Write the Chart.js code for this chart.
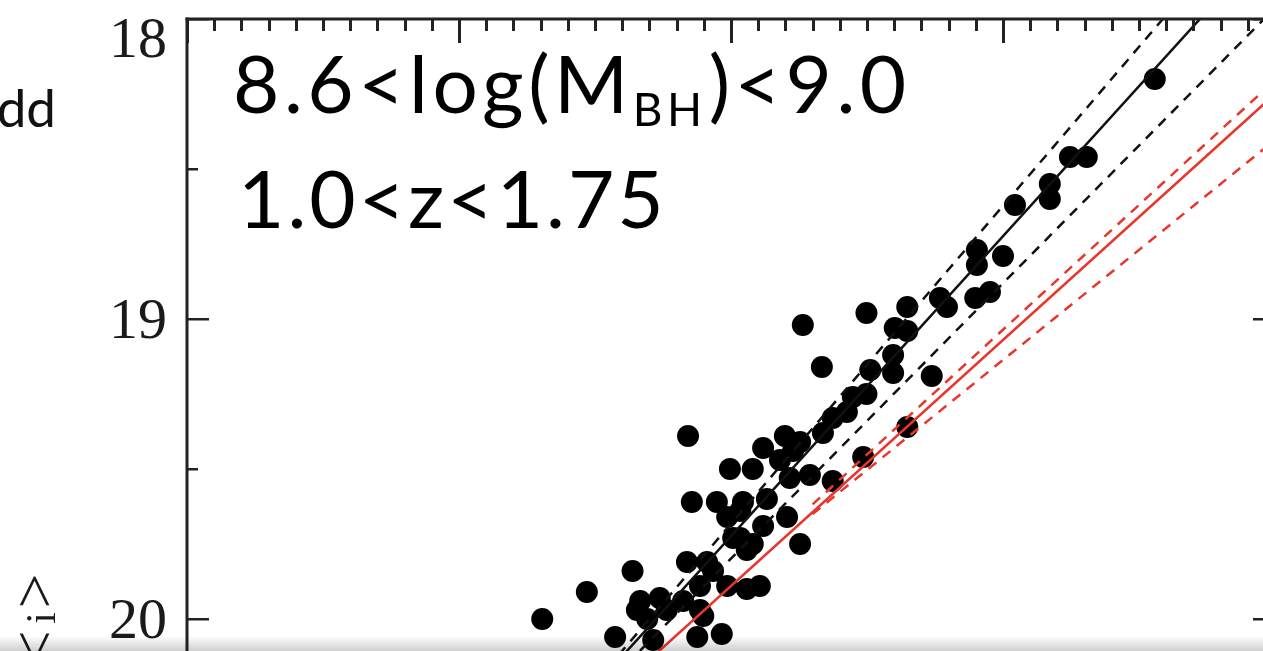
<!DOCTYPE html>
<html>
<head>
<meta charset="utf-8">
<script src="https://cdn.jsdelivr.net/npm/chart.js@4.4.1/dist/chart.umd.min.js"></script>
<style>
  html, body { margin: 0; padding: 0; background: #fff; overflow: hidden; }
  #wrap { position: absolute; left: 0; top: 0; width: 1300px; height: 720px; }
  #shade {
    position: absolute; left: 0; right: 0; top: 636px; height: 15px;
    background: linear-gradient(to bottom, #fff, #cfcfcf);
    mix-blend-mode: multiply; pointer-events: none;
  }
</style>
</head>
<body>
<div id="wrap"><canvas id="chart" width="1300" height="720"></canvas></div>
<div id="shade"></div>
<script>
// objects in the 8.6-9.0 mass bin, 1.0<z<1.75
const objX = [46.779, 46.623, 46.654, 46.586, 46.586, 46.522, 46.452, 46.500, 46.452, 46.476,
  46.449, 46.384, 46.397, 46.324, 46.249, 46.132, 46.301, 46.324, 46.167, 46.298,
  46.298, 46.256, 46.369, 46.224, 46.249, 46.324, 46.213, 46.187, 46.169, 46.127,
  46.099, 46.059, 46.114, 46.090, 46.243, 45.921, 45.998, 46.040, 46.108, 46.145,
  46.187, 45.928, 45.974, 46.022, 46.066, 45.993, 46.017, 46.059, 46.103, 46.127,
  46.017, 46.029, 45.919, 45.956, 45.967, 45.819, 45.735, 45.833, 45.869, 45.882,
  45.827, 45.846, 45.943, 45.993, 46.029, 46.053, 45.653, 45.787, 45.857, 45.938,
  45.983, 45.943, 45.912, 45.949, 46.004, 46.040];
const objY = [18.20, 18.46, 18.46, 18.55, 18.60, 18.62, 18.77, 18.79, 18.82, 18.91,
  18.93, 18.93, 18.96, 18.96, 18.98, 19.02, 19.03, 19.04, 19.16, 19.12,
  19.18, 19.17, 19.19, 19.26, 19.25, 19.36, 19.31, 19.33, 19.38, 19.41,
  19.39, 19.43, 19.44, 19.47, 19.46, 19.39, 19.50, 19.50, 19.53, 19.52,
  19.54, 19.61, 19.61, 19.61, 19.60, 19.66, 19.64, 19.69, 19.66, 19.75,
  19.73, 19.77, 19.81, 19.81, 19.84, 19.84, 19.91, 19.94, 19.93, 19.97,
  19.97, 20.00, 19.97, 19.89, 19.90, 19.89, 20.00, 20.06, 20.07, 20.06,
  20.05, 19.89, 19.94, 19.99, 19.73, 19.75];

// best fit (black) with its upper / lower bounds
const fitX = [45.6, 47.0];
const fitY = [20.524, 17.724];
const fitHiX = [45.6, 46.9];
const fitHiY = [20.53, 17.775];
const fitLoX = [45.6, 47.0];
const fitLoY = [20.533, 17.963];

// comparison relation (red) with its bounds
const refX = [45.75, 47.0];
const refY = [20.30, 18.25];
const refHiX = [46.15, 47.0];
const refHiY = [19.618, 18.204];
const refLoX = [46.15, 47.0];
const refLoY = [19.65, 18.403];

const yLabelValues = [18, 19, 20];
const yLabels = ["18", "19", "20"];

const xMin = 45, xMax = 47;
const yMin = 18, yMax = 20.3;

const toPts = (xs, ys) => xs.map((v, i) => ({ x: v, y: ys[i] }));

function lineSet(xs, ys, color, dash) {
  return {
    data: toPts(xs, ys),
    showLine: true,
    borderColor: color,
    borderWidth: 2.5,
    borderDash: dash || [],
    pointRadius: 0,
    order: 0
  };
}

// frame and inward ticks, drawn on top of everything
const framePlugin = {
  id: "frame",
  afterDraw(chart) {
    const ctx = chart.ctx;
    const a = chart.chartArea;
    const xs = chart.scales.x;
    const ys = chart.scales.y;
    const t = Math.round(ys.getPixelForValue(yMin));
    ctx.save();
    ctx.fillStyle = "#222";
    ctx.fillRect(a.left - 1.5, t - 1.5, a.right - a.left + 3, 3);
    ctx.fillRect(a.left - 1.5, t - 1.5, 3, a.bottom - t + 3);
    ctx.fillRect(a.right - 1.5, t - 1.5, 3, a.bottom - t + 3);

    // top axis: 10 minor steps per major
    for (let i = 0; i <= 40; i++) {
      const px = Math.round(xs.getPixelForValue(xMin + i / 20));
      const len = i % 10 === 0 ? 24 : 12;
      ctx.fillRect(px - 1, t, 3, len);
    }

    // left and right axes: majors every 1, minors every 0.5
    for (let i = 0; i <= 4; i++) {
      const py = Math.round(ys.getPixelForValue(yMin + i / 2));
      const len = i % 2 === 0 ? 22 : 11;
      ctx.fillRect(a.left, py - 1, len, 2.5);
      ctx.fillRect(a.right - len, py - 1, len, 2.5);
    }
    ctx.restore();
  }
};

// tick labels, axis title and panel text
const textPlugin = {
  id: "panelText",
  afterDraw(chart) {
    const ctx = chart.ctx;
    const a = chart.chartArea;
    const ys = chart.scales.y;
    ctx.save();
    ctx.fillStyle = "#1a1a1a";
    ctx.font = "58px 'Liberation Serif'";
    ctx.textAlign = "right";
    ctx.textBaseline = "alphabetic";
    yLabelValues.forEach((v, i) => {
      let py = ys.getPixelForValue(v) + 19;
      if (i === 0) py += 19; // first label pushed below the top edge
      ctx.fillText(yLabels[i], a.left - 20, py);
    });

    // rotated y title  <i>
    ctx.save();
    ctx.translate(55, 0);
    ctx.rotate(-Math.PI / 2);
    ctx.textAlign = "center";
    ctx.font = "62px 'Liberation Serif'";
    ctx.fillText("<", -648, 0);
    ctx.fillText(">", -591, 0);
    ctx.font = "42px 'Liberation Serif'";
    ctx.fillText("i", -618, 0);
    ctx.restore();

    // leftover word from the neighbouring panel
    ctx.fillStyle = "#111";
    ctx.textAlign = "right";
    ctx.font = "53px Lato";
    ctx.fillText("dd", 56, 127);

    // bin label
    ctx.fillStyle = "#000";
    ctx.textAlign = "left";
    ctx.letterSpacing = "4.5px";
    ctx.font = "80px Lato";
    let tx = 233;
    const part1 = "8.6<log(M";
    ctx.fillText(part1, tx, 113);
    tx += ctx.measureText(part1).width;
    ctx.font = "46px Lato";
    ctx.fillText("BH", tx, 126);
    tx += ctx.measureText("BH").width + 2;
    ctx.font = "80px Lato";
    ctx.fillText(")<9.0", tx, 113);
    ctx.letterSpacing = "3px";
    ctx.fillText("1.0<z<1.75", 238, 228);
    ctx.restore();
  }
};

const canvasH = 720;
const padTop = 19;
const pxPerMag = 301;

new Chart(document.getElementById("chart"), {
  type: "scatter",
  data: {
    datasets: [
      lineSet(refX, refY, "#e8362c"),
      lineSet(refHiX, refHiY, "#e8362c", [10, 8]),
      lineSet(refLoX, refLoY, "#e8362c", [10, 8]),
      lineSet(fitX, fitY, "#111"),
      lineSet(fitHiX, fitHiY, "#111", [10, 8]),
      lineSet(fitLoX, fitLoY, "#111", [10, 8]),
      {
        data: toPts(objX, objY),
        backgroundColor: "#000",
        borderWidth: 0,
        pointRadius: 11,
        order: 1
      }
    ]
  },
  options: {
    responsive: false,
    animation: false,
    devicePixelRatio: 1,
    layout: {
      padding: { left: 187, top: padTop, right: 25, bottom: canvasH - padTop - (yMax - yMin) * pxPerMag }
    },
    plugins: { legend: { display: false }, tooltip: { enabled: false } },
    scales: {
      x: { type: "linear", min: xMin, max: xMax, display: false },
      y: { type: "linear", min: yMin, max: yMax, reverse: true, display: false }
    }
  },
  plugins: [textPlugin, framePlugin]
});
</script>
</body>
</html>
